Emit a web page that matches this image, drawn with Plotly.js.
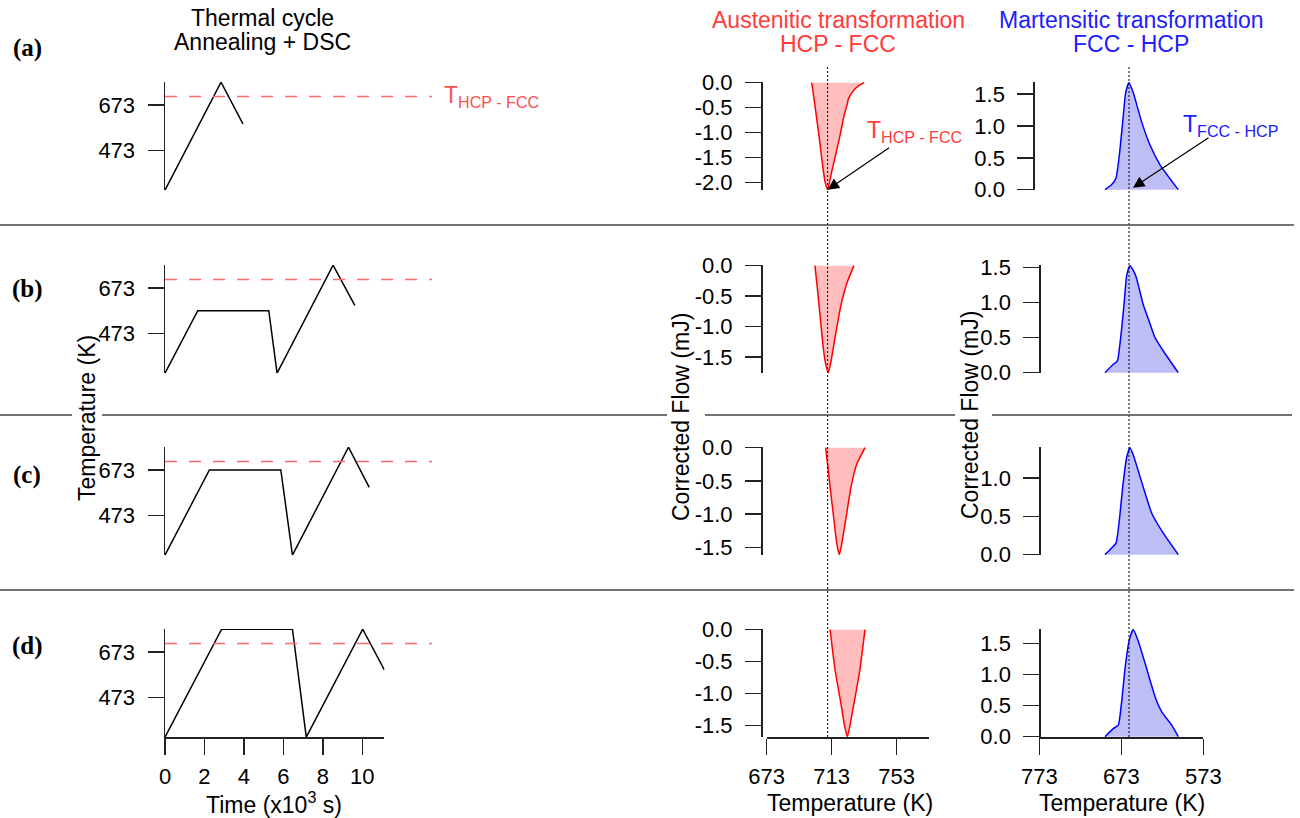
<!DOCTYPE html>
<html><head><meta charset="utf-8">
<script src="https://cdn.plot.ly/plotly-3.0.1.min.js"></script>
<style>html,body{margin:0;padding:0;background:#fff;}#chart{width:1300px;height:818px;}</style>
</head><body><div id="chart"></div>
<script>
// ================= DATA =================
const rowLabels = ['(a)', '(b)', '(c)', '(d)'];
// Thermal cycles: time (x10^3 s) and temperature (K)
const cycleA_t = [0, 2.84, 3.95];
const cycleA_T = [298, 773, 590];
const cycleB_t = [0, 1.66, 5.26, 5.68, 8.52, 9.62];
const cycleB_T = [298, 573, 573, 298, 773, 596];
const cycleC_t = [0, 2.25, 5.87, 6.46, 9.30, 10.35];
const cycleC_T = [298, 673, 673, 298, 773, 596];
const cycleD_t = [0, 2.87, 6.46, 7.16, 10.02, 11.12];
const cycleD_T = [298, 773, 773, 298, 773, 594];
// Austenitic transformation (heating): temperature (K), corrected flow (mJ)
const austA_T = [700.7, 702.7, 705.4, 707.4, 708.9, 710.5, 713.0, 717.7, 720.6, 722.6, 723.2, 726.3, 729.4, 733.0];
const austA_F = [0, -0.46, -1.12, -1.65, -1.98, -2.14, -1.78, -1.12, -0.66, -0.43, -0.33, -0.165, -0.066, 0];
const austB_T = [702.7, 704.2, 706.2, 707.8, 709.3, 710.9, 712.6, 715.0, 718.7, 722.6, 726.7];
const austB_F = [0, -0.38, -0.92, -1.35, -1.62, -1.76, -1.57, -1.19, -0.65, -0.27, 0];
const austC_T = [709.3, 712.0, 714.4, 716.1, 717.7, 719.2, 721.6, 724.9, 728.4, 733.5];
const austC_F = [0, -0.59, -1.09, -1.44, -1.61, -1.44, -1.09, -0.59, -0.25, 0];
const austD_T = [712.0, 715.0, 718.5, 720.8, 722.6, 724.3, 726.9, 730.4, 733.5];
const austD_F = [0, -0.62, -1.13, -1.49, -1.675, -1.49, -1.13, -0.62, 0];
// Martensitic transformation (cooling): temperature (K), corrected flow (mJ)
const martA_T = [692.9, 684.7, 679.5, 675.4, 671.3, 667.7, 663.6, 658.4, 648.1, 638.0, 625.8, 603.5];
const martA_F = [0, 0.08, 0.18, 0.54, 1.06, 1.52, 1.68, 1.52, 1.06, 0.70, 0.39, 0];
const martB_T = [692.9, 682.8, 677.9, 673.8, 669.7, 666.4, 662.4, 655.5, 646.2, 638.9, 631.9, 621.8, 603.5];
const martB_F = [0, 0.12, 0.165, 0.50, 0.97, 1.39, 1.53, 1.39, 0.97, 0.73, 0.50, 0.31, 0];
const martC_T = [692.9, 686.8, 679.5, 675.4, 671.3, 666.4, 662.4, 657.5, 646.2, 635.9, 621.8, 603.5];
const martC_F = [0, 0.064, 0.15, 0.45, 0.88, 1.27, 1.395, 1.27, 0.88, 0.54, 0.28, 0];
const martD_T = [692.9, 682.8, 676.7, 672.6, 668.5, 663.2, 658.4, 653.0, 642.0, 631.0, 623.7, 611.5, 603.5];
const martD_F = [0, 0.13, 0.185, 0.56, 1.09, 1.56, 1.72, 1.56, 1.09, 0.61, 0.40, 0.185, 0];
// Transition temperatures (K)
const T_HCP_FCC = 710.5;
const T_FCC_HCP = 663.6;
// Tick values
const timeTicks = [0, 2, 4, 6, 8, 10];
const tempTicks = [473, 673];
const austTempTicks = [673, 713, 753];
const martTempTicks = [773, 673, 573];
const timeRange = [0, 11.12];
const tempRange = [297, 774];
const austRange = [673, 773];
const martRange = [773, 573];

// ================= LAYOUT HELPERS =================
const W = 1300, H = 818;
const fx = p => p / W;
const fy = p => 1 - p / H;
const rowTop = [82, 265, 447, 629];
const rowH = 108.3;
const col1X = [165, 384.4];
const col2X = [766.7, 929.2];
const col3X = [1039.3, 1203.3];
const col2AxisPos = [761, 761, 761, 761];
const col3AxisPos = [1033.3, 1039.3, 1039.3, 1039.3];
const FONT = 'Liberation Sans, Arial, Helvetica, sans-serif';
const AX = '#222';
const RED = '#ff0000', RED_FILL = 'rgba(255,0,0,0.26)', RED_TXT = '#ff3b3b';
const BLUE = '#0000ff', BLUE_FILL = 'rgba(40,40,230,0.30)', BLUE_TXT = '#2020ff';

const cycles = [[cycleA_t, cycleA_T], [cycleB_t, cycleB_T], [cycleC_t, cycleC_T], [cycleD_t, cycleD_T]];
const aust = [[austA_T, austA_F], [austB_T, austB_F], [austC_T, austC_F], [austD_T, austD_F]];
const mart = [[martA_T, martA_F], [martB_T, martB_F], [martC_T, martC_F], [martD_T, martD_F]];

const id = n => (n === 1 ? '' : String(n));
function halfTicks(lo, hi) {
  const out = [];
  for (let k = Math.ceil(lo * 2 - 1e-9); k <= Math.floor(hi * 2 + 1e-9); k++) out.push(k / 2);
  return out;
}
const fmt = v => (Math.abs(v) < 1e-9 ? 0 : v).toFixed(1);

const baseAxis = {
  showline: true, linecolor: AX, linewidth: 1.5, ticks: 'outside', ticklen: 16, tickwidth: 1.5,
  tickcolor: AX, showgrid: false, zeroline: false, fixedrange: true,
  tickfont: {family: FONT, size: 22, color: '#000'}
};

const layout = {
  width: W, height: H, margin: {l: 0, r: 0, t: 0, b: 0}, showlegend: false,
  paper_bgcolor: '#fff', plot_bgcolor: 'rgba(0,0,0,0)',
  font: {family: FONT, size: 22, color: '#000'},
  annotations: [], shapes: []
};
const traces = [];

for (let r = 0; r < 4; r++) {
  const yDom = [fy(rowTop[r] + rowH), fy(rowTop[r])];
  const last = r === 3;
  // ---- column 1: thermal cycle ----
  let n = r * 3 + 1;
  layout['xaxis' + id(n)] = Object.assign({}, baseAxis, {
    domain: [fx(col1X[0]), fx(col1X[1])], range: timeRange, anchor: 'y' + id(n),
    visible: last, tickvals: timeTicks, ticktext: timeTicks.map(String), ticklabelstandoff: 3
  });
  layout['yaxis' + id(n)] = Object.assign({}, baseAxis, {
    domain: yDom, range: tempRange, anchor: 'x' + id(n),
    tickvals: tempTicks, ticktext: tempTicks.map(String), ticklabelstandoff: 8
  });
  traces.push({x: cycles[r][0], y: cycles[r][1], xaxis: 'x' + id(n), yaxis: 'y' + id(n),
    mode: 'lines', line: {color: '#000', width: 1.5}, hoverinfo: 'skip'});
  layout.shapes.push({type: 'line', xref: 'paper', yref: 'y' + id(n), x0: fx(165), x1: fx(432),
    y0: T_HCP_FCC, y1: T_HCP_FCC, line: {color: '#ff6a6a', width: 1.5, dash: '12px,12px'}});

  // ---- column 2: austenitic ----
  n = r * 3 + 2;
  const aMin = Math.min(...aust[r][1]);
  const aPad = Math.abs(aMin) * 0.006;
  const aT = halfTicks(aMin, 0);
  layout['xaxis' + id(n)] = Object.assign({}, baseAxis, {
    domain: [fx(col2X[0]), fx(col2X[1])], range: austRange, anchor: 'y' + id(n),
    visible: last, tickvals: austTempTicks, ticktext: austTempTicks.map(String), ticklabelstandoff: 3
  });
  layout['yaxis' + id(n)] = Object.assign({}, baseAxis, {
    domain: yDom, range: [aMin - aPad, aPad], anchor: 'free', position: fx(col2AxisPos[r]),
    tickvals: aT, ticktext: aT.map(fmt), ticklabelstandoff: 8
  });
  traces.push({x: aust[r][0], y: aust[r][1], xaxis: 'x' + id(n), yaxis: 'y' + id(n),
    mode: 'lines', fill: 'tozeroy', fillcolor: RED_FILL,
    line: {color: RED, width: 1.5, shape: 'spline', smoothing: 0.5}, hoverinfo: 'skip'});

  // ---- column 3: martensitic ----
  n = r * 3 + 3;
  const mMax = Math.max(...mart[r][1]);
  const mPad = mMax * 0.006;
  const mT = halfTicks(0, mMax);
  layout['xaxis' + id(n)] = Object.assign({}, baseAxis, {
    domain: [fx(col3X[0]), fx(col3X[1])], range: martRange, anchor: 'y' + id(n),
    visible: last, tickvals: martTempTicks, ticktext: martTempTicks.map(String), ticklabelstandoff: 3
  });
  layout['yaxis' + id(n)] = Object.assign({}, baseAxis, {
    domain: yDom, range: [-mPad, mMax + mPad], anchor: 'free', position: fx(col3AxisPos[r]),
    tickvals: mT, ticktext: mT.map(fmt), ticklabelstandoff: 8
  });
  traces.push({x: mart[r][0], y: mart[r][1], xaxis: 'x' + id(n), yaxis: 'y' + id(n),
    mode: 'lines', fill: 'tozeroy', fillcolor: BLUE_FILL,
    line: {color: BLUE, width: 1.5, shape: 'spline', smoothing: 0.5}, hoverinfo: 'skip'});

  // row label
  const labelY = [48, 289, 475, 646][r];
  layout.annotations.push({xref: 'paper', yref: 'paper', x: fx(27), y: fy(labelY), text: '<b>' + rowLabels[r] + '</b>',
    showarrow: false, xanchor: 'center', yanchor: 'middle',
    font: {family: 'Liberation Serif, Times New Roman, serif', size: 25, color: '#000'}});
}

// vertical dotted transition lines
layout.shapes.push({type: 'line', xref: 'x2', yref: 'paper', x0: T_HCP_FCC, x1: T_HCP_FCC,
  y0: fy(737), y1: fy(66), line: {color: '#000', width: 1, dash: '2px,2px'}});
layout.shapes.push({type: 'line', xref: 'x3', yref: 'paper', x0: T_FCC_HCP, x1: T_FCC_HCP,
  y0: fy(737), y1: fy(66), line: {color: '#000', width: 1, dash: '2px,2px'}});

// separator lines
const sep = (x0, x1, y) => layout.shapes.push({type: 'line', xref: 'paper', yref: 'paper',
  x0: fx(x0), x1: fx(x1), y0: fy(y), y1: fy(y), line: {color: '#444', width: 1.5}});
sep(0, 1294, 225);
sep(0, 72, 415); sep(102, 667, 415); sep(705, 955, 415); sep(992, 1292, 415);
sep(0, 1294, 590);

// text helpers
const txt = (x, y, text, opts) => layout.annotations.push(Object.assign({
  xref: 'paper', yref: 'paper', x: fx(x), y: fy(y), text: text, showarrow: false, borderpad: 0,
  xanchor: 'center', yanchor: 'middle', font: {family: FONT, size: 23, color: '#000'}}, opts || {}));

// column titles
txt(262, 18, 'Thermal cycle');
txt(262, 42, 'Annealing + DSC');
txt(838, 20, 'Austenitic transformation', {font: {family: FONT, size: 23, color: RED_TXT}});
txt(838, 44, 'HCP - FCC', {font: {family: FONT, size: 23, color: RED_TXT}});
txt(1131, 20, 'Martensitic transformation', {font: {family: FONT, size: 23, color: BLUE_TXT}});
txt(1131, 44, 'FCC - HCP', {font: {family: FONT, size: 23, color: BLUE_TXT}});

// axis titles
txt(87, 418, 'Temperature (K)', {textangle: -90});
txt(681, 417, 'Corrected Flow (mJ)', {textangle: -90});
txt(970, 415, 'Corrected Flow (mJ)', {textangle: -90});
txt(274, 803, 'Time (x10<sup>3</sup> s)');
txt(850, 803, 'Temperature (K)');
txt(1121.6, 803, 'Temperature (K)');

// transition labels
layout.annotations.push({xref: 'paper', yref: 'y', x: fx(443), y: T_HCP_FCC, borderpad: 0,
  text: 'T<sub>HCP - FCC</sub>', showarrow: false, xanchor: 'left', yanchor: 'middle',
  font: {family: FONT, size: 23, color: '#ff5050'}});
txt(866, 131, 'T<sub>HCP - FCC</sub>', {xanchor: 'left', font: {family: FONT, size: 23, color: RED_TXT}});
txt(1182, 125, 'T<sub>FCC - HCP</sub>', {xanchor: 'left', font: {family: FONT, size: 23, color: BLUE_TXT}});

// arrows
layout.annotations.push({xref: 'x2', yref: 'y2', x: T_HCP_FCC, y: Math.min(...austA_F), text: '',
  showarrow: true, arrowhead: 2, arrowsize: 1.9, arrowwidth: 1.2, arrowcolor: '#000', ax: 63, ay: -43, standoff: 0});
layout.annotations.push({xref: 'x3', yref: 'y3', x: 658.7, y: 0.03, text: '',
  showarrow: true, arrowhead: 2, arrowsize: 1.9, arrowwidth: 1.2, arrowcolor: '#000', ax: 77, ay: -51, standoff: 0});

Plotly.newPlot('chart', traces, layout, {displayModeBar: false, staticPlot: true});
</script>
</body></html>
